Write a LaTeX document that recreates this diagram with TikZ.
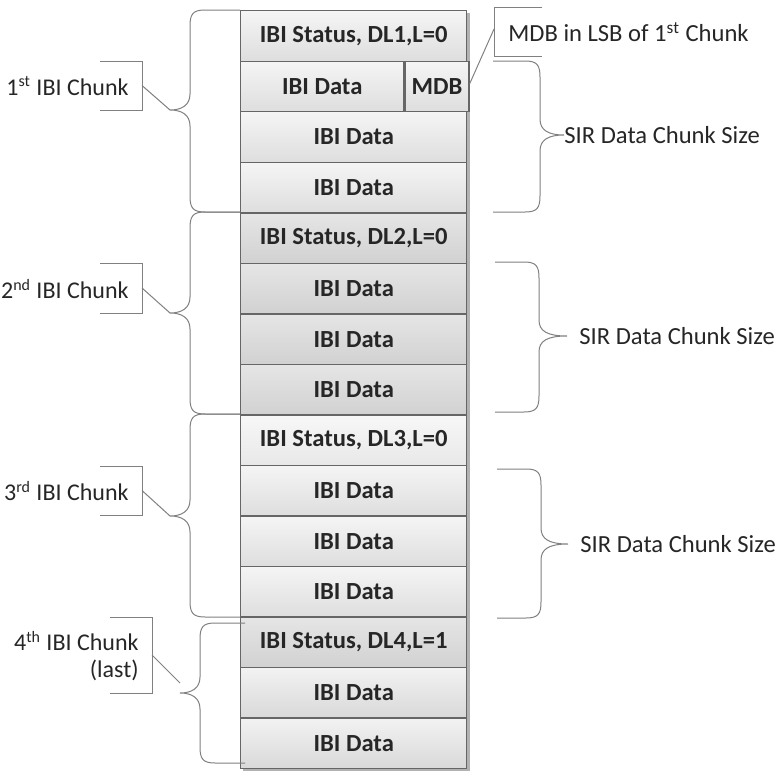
\documentclass[tikz,border=0pt]{standalone}
\usepackage{fontspec}
\setmainfont{Carlito}
\begin{document}
\begin{tikzpicture}[x=0.5pt,y=-0.5pt,
    cell/.style={draw=black!60,line width=0.7pt,minimum height=25.27pt,inner sep=0pt,
      font=\fontsize{12.3}{14}\selectfont\bfseries,text=black!85},
    thin line/.style={draw=black!50,line width=0.5pt},
    note/.style={inner sep=0pt,font=\fontsize{12}{13.5}\selectfont,text=black!85},
    size note/.style={note,font=\fontsize{12.3}{13.5}\selectfont}]
  \useasboundingbox (0,0) rectangle (777,771);
  % shadows behind the stack
  \fill[black!30] (243,13) rectangle (470,771);
  \fill[black!30] (406,64) rectangle (470,114);
  % fifteen rows
  \foreach \i/\w/\txt/\tc/\bc in {1/226/{IBI Status, DL1,L=0}/4/13, 2/163/{IBI Data}/4/13,
      3/226/{IBI Data}/4/13, 4/226/{IBI Data}/4/13, 5/226/{IBI Status, DL2,L=0}/10/18,
      6/226/{IBI Data}/10/18, 7/226/{IBI Data}/10/18, 8/226/{IBI Data}/10/18,
      9/226/{IBI Status, DL3,L=0}/3/9, 10/226/{IBI Data}/4/13, 11/226/{IBI Data}/4/13,
      12/226/{IBI Data}/4/13, 13/226/{IBI Status, DL4,L=1}/10/18,
      14/226/{IBI Data}/5/15, 15/226/{IBI Data}/5/15}
    \node[cell,top color=black!\tc,bottom color=black!\bc,minimum width=\w*0.5pt,anchor=north west]
      (r\i) at (240,{10+(\i-1)*50.53}) {\txt};
  \node[cell,top color=black!4,bottom color=black!13,minimum width=32pt,anchor=north west]
    (mdb) at (r2.north east) {MDB};
  % braces on the left
  \foreach \n/\t/\b/\m/\mx/\tx/\ex in {1/10/212/110/190/170/240, 2/212/414/313/190/170/240,
      3/414/617/516/190/170/240, 4/623/763/693/200/180/245}
    \draw[thin line] (\ex,\t) -- ({\mx+15},\t) .. controls ({\mx+3},\t) and (\mx,{\t+4}) .. (\mx,{\t+16})
      -- (\mx,{\m-16}) .. controls (\mx,{\m-5}) and ({\mx-8},\m) .. (\tx,\m) coordinate (lt\n)
      .. controls ({\mx-8},\m) and (\mx,{\m+5}) .. (\mx,{\m+16})
      -- (\mx,{\b-16}) .. controls (\mx,{\b-4}) and ({\mx+3},\b) .. ({\mx+15},\b) -- (\ex,\b);
  % braces on the right
  \foreach \n/\t/\b/\m/\ex/\mx/\tx in {1/61/212/135/493/540/564, 2/262/412/336/495/539/567,
      3/469/618/544/497/541/568}
    \draw[thin line] (\ex,\t) -- ({\mx-15},\t) .. controls ({\mx-3},\t) and (\mx,{\t+4}) .. (\mx,{\t+16})
      -- (\mx,{\m-16}) .. controls (\mx,{\m-5}) and ({\mx+8},\m) .. (\tx,\m) coordinate (rt\n)
      .. controls ({\mx+8},\m) and (\mx,{\m+5}) .. (\mx,{\m+16})
      -- (\mx,{\b-16}) .. controls (\mx,{\b-4}) and ({\mx-3},\b) .. ({\mx-15},\b) -- (\ex,\b);
  % callouts
  \foreach \n/\t/\b/\bx/\lx in {1/61/110/142/100, 2/263/313/142/100, 3/466/515/142/100, 4/617/693/152/110}
    \draw[thin line] (\lx,\t) -- (\bx,\t) -- (\bx,\b) coordinate[pos=0.5] (n\n) -- (\lx,\b);
  \draw[thin line] (542,7) -- (494,7) -- (494,56) coordinate[pos=0.45] (nm) -- (542,56);
  \draw[thin line] (n1) -- (lt1);
  \draw[thin line] (n2) -- (lt2);
  \draw[thin line] (n3) -- (lt3);
  \draw[thin line] (n4) -- ([yshift=5pt]lt4);
  \draw[thin line] (nm) -- ([yshift=1.5pt]mdb.east);
  % texts
  \node[note,anchor=east] (c1) at (129,86) {1\textsuperscript{st} IBI Chunk};
  \node[note,anchor=east] (c2) at (129,289) {2\textsuperscript{nd} IBI Chunk};
  \node[note,anchor=east] (c3) at (129,491) {3\textsuperscript{rd} IBI Chunk};
  \node[note,anchor=east,align=right] (c4) at (139,656) {4\textsuperscript{th} IBI Chunk\\(last)};
  \node[size note,anchor=west] (mnote) at (508,32) {MDB in LSB of 1\textsuperscript{st} Chunk};
  \node[size note,anchor=west] (s1) at (rt1) {SIR Data Chunk Size};
  \node[size note,anchor=west] (s2) at ([xshift=6pt]rt2) {SIR Data Chunk Size};
  \node[size note,anchor=west] (s3) at ([xshift=6pt]rt3) {SIR Data Chunk Size};
\end{tikzpicture}
\end{document}
